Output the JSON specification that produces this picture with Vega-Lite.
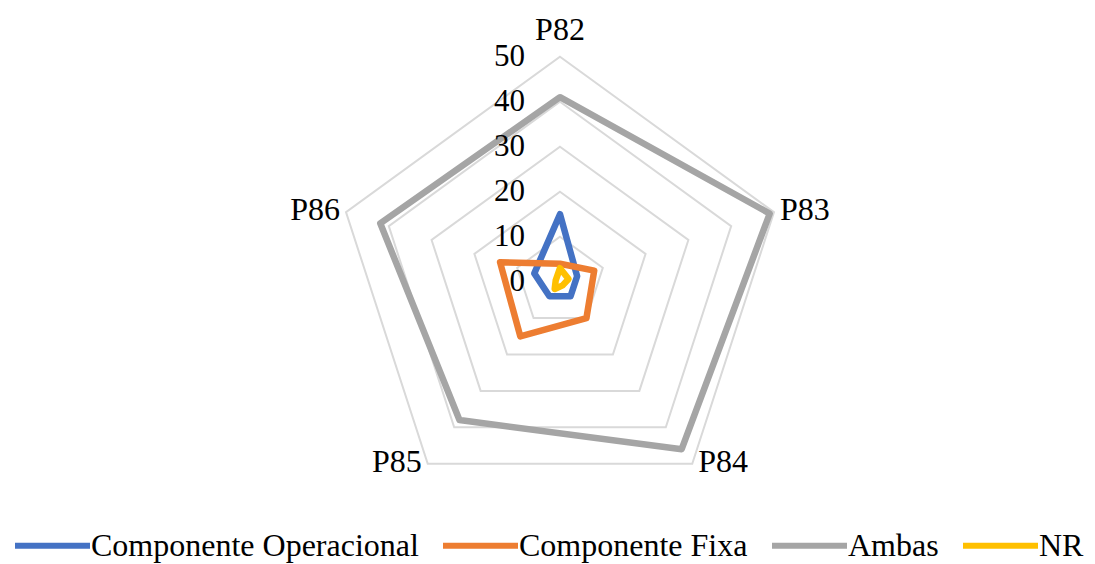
{
  "$schema": "https://vega.github.io/schema/vega-lite/v6.json",
  "width": 1095,
  "height": 564,
  "padding": 0,
  "autosize": {"type": "none"},
  "background": "white",
  "config": {"view": {"stroke": null}, "font": "Liberation Serif"},
  "datasets": {
    "scores": [
      {"series": "Componente Operacional", "axis": "P82", "value": 15},
      {"series": "Componente Operacional", "axis": "P83", "value": 4},
      {"series": "Componente Operacional", "axis": "P84", "value": 4},
      {"series": "Componente Operacional", "axis": "P85", "value": 4},
      {"series": "Componente Operacional", "axis": "P86", "value": 6},
      {"series": "Componente Fixa", "axis": "P82", "value": 4},
      {"series": "Componente Fixa", "axis": "P83", "value": 8},
      {"series": "Componente Fixa", "axis": "P84", "value": 10},
      {"series": "Componente Fixa", "axis": "P85", "value": 15},
      {"series": "Componente Fixa", "axis": "P86", "value": 14},
      {"series": "Ambas", "axis": "P82", "value": 41},
      {"series": "Ambas", "axis": "P83", "value": 49},
      {"series": "Ambas", "axis": "P84", "value": 46},
      {"series": "Ambas", "axis": "P85", "value": 38},
      {"series": "Ambas", "axis": "P86", "value": 42},
      {"series": "NR", "axis": "P82", "value": 3},
      {"series": "NR", "axis": "P83", "value": 2},
      {"series": "NR", "axis": "P84", "value": 1},
      {"series": "NR", "axis": "P85", "value": 2},
      {"series": "NR", "axis": "P86", "value": 1}
    ],
    "rings": [
      {"level": 10, "axis": ["P82", "P83", "P84", "P85", "P86"]},
      {"level": 20, "axis": ["P82", "P83", "P84", "P85", "P86"]},
      {"level": 30, "axis": ["P82", "P83", "P84", "P85", "P86"]},
      {"level": 40, "axis": ["P82", "P83", "P84", "P85", "P86"]},
      {"level": 50, "axis": ["P82", "P83", "P84", "P85", "P86"]}
    ],
    "ticks": [
      {"level": 0}, {"level": 10}, {"level": 20}, {"level": 30}, {"level": 40}, {"level": 50}
    ],
    "spokes": [
      {"axis": "P82", "value": 50},
      {"axis": "P83", "value": 50},
      {"axis": "P84", "value": 50},
      {"axis": "P85", "value": 50},
      {"axis": "P86", "value": 50}
    ]
  },
  "layer": [
    {
      "data": {"name": "rings"},
      "transform": [
        {"flatten": ["axis"]},
        {"calculate": "indexof(['P82','P83','P84','P85','P86'], datum.axis)", "as": "idx"},
        {"calculate": "datum.level * sin(datum.idx * 2 * PI / 5)", "as": "px"},
        {"calculate": "datum.level * cos(datum.idx * 2 * PI / 5)", "as": "py"}
      ],
      "mark": {"type": "line", "interpolate": "linear-closed", "stroke": "#D9D9D9", "strokeWidth": 2},
      "encoding": {
        "x": {"field": "px", "type": "quantitative", "scale": {"domain": [-124.44, 118.89], "nice": false, "zero": false}, "axis": null},
        "y": {"field": "py", "type": "quantitative", "scale": {"domain": [-62.73, 62.6], "nice": false, "zero": false}, "axis": null},
        "detail": {"field": "level", "type": "nominal"},
        "order": {"field": "idx", "type": "quantitative"}
      }
    },
    {
      "data": {"name": "scores"},
      "transform": [
        {"calculate": "indexof(['P82','P83','P84','P85','P86'], datum.axis)", "as": "idx"},
        {"calculate": "datum.value * sin(datum.idx * 2 * PI / 5)", "as": "px"},
        {"calculate": "datum.value * cos(datum.idx * 2 * PI / 5)", "as": "py"}
      ],
      "mark": {"type": "line", "interpolate": "linear-closed", "strokeWidth": 6.5, "strokeJoin": "round", "strokeCap": "round"},
      "encoding": {
        "x": {"field": "px", "type": "quantitative", "scale": {"domain": [-124.44, 118.89], "nice": false, "zero": false}, "axis": null},
        "y": {"field": "py", "type": "quantitative", "scale": {"domain": [-62.73, 62.6], "nice": false, "zero": false}, "axis": null},
        "order": {"field": "idx", "type": "quantitative"},
        "color": {
          "field": "series",
          "type": "nominal",
          "scale": {
            "domain": ["Componente Operacional", "Componente Fixa", "Ambas", "NR"],
            "range": ["#4472C4", "#ED7D31", "#A5A5A5", "#FFC000"]
          },
          "legend": {
            "title": null,
            "orient": "none",
            "legendX": 12,
            "legendY": 505,
            "direction": "horizontal",
            "columns": 4,
            "symbolType": "stroke",
            "symbolSize": 5625,
            "symbolStrokeWidth": 6,
            "labelFont": "Liberation Serif",
            "labelFontSize": 32,
            "labelColor": "#000000",
            "labelOffset": -2,
            "labelLimit": 0,
            "columnPadding": 12
          }
        }
      }
    },
    {
      "data": {"name": "ticks"},
      "mark": {"type": "text", "align": "right", "baseline": "middle", "dx": -35, "fontSize": 31, "font": "Liberation Serif", "color": "#000000"},
      "encoding": {
        "x": {"datum": 0, "type": "quantitative", "scale": {"domain": [-124.44, 118.89], "nice": false, "zero": false}, "axis": null},
        "y": {"field": "level", "type": "quantitative", "scale": {"domain": [-62.73, 62.6], "nice": false, "zero": false}, "axis": null},
        "text": {"field": "level", "type": "quantitative"}
      }
    },
    {
      "data": {"name": "spokes"},
      "transform": [
        {"filter": "datum.axis === 'P82'"},
        {"calculate": "indexof(['P82','P83','P84','P85','P86'], datum.axis)", "as": "idx"},
        {"calculate": "datum.value * sin(datum.idx * 2 * PI / 5)", "as": "px"},
        {"calculate": "datum.value * cos(datum.idx * 2 * PI / 5)", "as": "py"}
      ],
      "mark": {"type": "text", "align": "center", "baseline": "alphabetic", "dy": -17, "fontSize": 32, "font": "Liberation Serif", "color": "#000000"},
      "encoding": {
        "x": {"field": "px", "type": "quantitative", "scale": {"domain": [-124.44, 118.89], "nice": false, "zero": false}, "axis": null},
        "y": {"field": "py", "type": "quantitative", "scale": {"domain": [-62.73, 62.6], "nice": false, "zero": false}, "axis": null},
        "text": {"field": "axis", "type": "nominal"}
      }
    },
    {
      "data": {"name": "spokes"},
      "transform": [
        {"filter": "datum.axis === 'P83' || datum.axis === 'P84'"},
        {"calculate": "indexof(['P82','P83','P84','P85','P86'], datum.axis)", "as": "idx"},
        {"calculate": "datum.value * sin(datum.idx * 2 * PI / 5)", "as": "px"},
        {"calculate": "datum.value * cos(datum.idx * 2 * PI / 5)", "as": "py"}
      ],
      "mark": {"type": "text", "align": "left", "baseline": "middle", "dx": 6, "dy": -2, "fontSize": 32, "font": "Liberation Serif", "color": "#000000"},
      "encoding": {
        "x": {"field": "px", "type": "quantitative", "scale": {"domain": [-124.44, 118.89], "nice": false, "zero": false}, "axis": null},
        "y": {"field": "py", "type": "quantitative", "scale": {"domain": [-62.73, 62.6], "nice": false, "zero": false}, "axis": null},
        "text": {"field": "axis", "type": "nominal"}
      }
    },
    {
      "data": {"name": "spokes"},
      "transform": [
        {"filter": "datum.axis === 'P85' || datum.axis === 'P86'"},
        {"calculate": "indexof(['P82','P83','P84','P85','P86'], datum.axis)", "as": "idx"},
        {"calculate": "datum.value * sin(datum.idx * 2 * PI / 5)", "as": "px"},
        {"calculate": "datum.value * cos(datum.idx * 2 * PI / 5)", "as": "py"}
      ],
      "mark": {"type": "text", "align": "right", "baseline": "middle", "dx": -6, "dy": -2, "fontSize": 32, "font": "Liberation Serif", "color": "#000000"},
      "encoding": {
        "x": {"field": "px", "type": "quantitative", "scale": {"domain": [-124.44, 118.89], "nice": false, "zero": false}, "axis": null},
        "y": {"field": "py", "type": "quantitative", "scale": {"domain": [-62.73, 62.6], "nice": false, "zero": false}, "axis": null},
        "text": {"field": "axis", "type": "nominal"}
      }
    }
  ]
}
